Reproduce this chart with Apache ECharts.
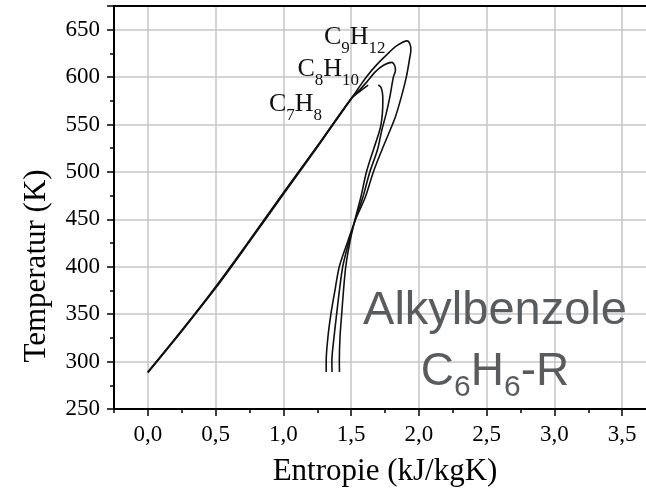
<!DOCTYPE html>
<html>
<head>
<meta charset="utf-8">
<script src="https://cdn.jsdelivr.net/npm/echarts@6/dist/echarts.min.js"></script>
<style>
html,body{margin:0;padding:0;background:#fff;}
#chart{width:646px;height:496px;}
</style>
</head>
<body>
<div id="chart"></div>
<script>
// ---- tick values ----
const xTickValues = [0, 0.5, 1.0, 1.5, 2.0, 2.5, 3.0, 3.5];
const yTickValues = [250, 300, 350, 400, 450, 500, 550, 600, 650];

// ---- C7H8 (Toluol): liquid branch and vapour branch (drawn separately) ----
const c7LiquidS = [0, 0.25, 0.5, 0.75, 1.0, 1.25, 1.5, 1.56, 1.626];
const c7LiquidT = [289, 333, 379, 428, 478, 527, 577, 584.5, 591.5];
const c7VaporS = [1.700, 1.720, 1.731, 1.734, 1.731, 1.720, 1.705, 1.664, 1.613, 1.572, 1.528, 1.494, 1.461, 1.444, 1.431, 1.418, 1.413, 1.414];
const c7VaporT = [591.8, 589.1, 583.3, 575.9, 562.3, 549.6, 541.1, 523.2, 500.0, 473.6, 449.4, 428.3, 400.8, 375.5, 351.3, 326.0, 300.6, 289.0];

// ---- C8H10: saturation curve (liquid up to critical point, then vapour) ----
const c8S = [0, 0.25, 0.5, 0.75, 1.0, 1.25, 1.5, 1.56, 1.616, 1.678, 1.739, 1.800, 1.822, 1.827, 1.812, 1.786, 1.760, 1.727, 1.694, 1.638, 1.587, 1.530, 1.487, 1.439, 1.414, 1.394, 1.374, 1.358, 1.359];
const c8T = [288.5, 332, 378, 427, 477.5, 527, 577.5, 586, 595, 605.5, 612.5, 615.5, 612, 607, 600.3, 579.2, 562.3, 544.3, 523.2, 500, 473.6, 449.4, 428.3, 400.8, 375.5, 351.3, 326, 300.6, 289];

// ---- C9H12: saturation curve ----
const c9S = [0, 0.25, 0.5, 0.75, 1.0, 1.25, 1.5, 1.55, 1.614, 1.688, 1.762, 1.835, 1.914, 1.934, 1.941, 1.930, 1.908, 1.871, 1.827, 1.779, 1.727, 1.664, 1.605, 1.531, 1.479, 1.414, 1.381, 1.352, 1.329, 1.316, 1.316];
const c9T = [288.5, 332.5, 377.5, 426.5, 476.5, 526, 577, 587.5, 600.5, 612.9, 623.4, 632.9, 638.2, 635, 628.7, 618.2, 600.5, 579.4, 558.3, 541.1, 523.2, 500, 473.6, 449.4, 428.3, 400.8, 375.5, 351.3, 326, 300.6, 289];

function pairs(s, t) { return s.map((v, i) => [v, t[i]]); }
function isTick(v, list) { return list.some(t => Math.abs(t - v) < 1e-6); }

const serifFont = 'Liberation Serif';
const gridGray = '#c6c6c6';
const curveStyle = { color: '#111', width: 1.6 };

function curve(name, data) {
  return {
    name: name, type: 'line', data: data, xAxisIndex: 0, yAxisIndex: 0,
    showSymbol: false, symbol: 'none', smooth: 0.3, z: 3, silent: true,
    lineStyle: curveStyle
  };
}

function formulaLabel(text, x, y) {
  return {
    type: 'text', z: 10, x: x, y: y,
    style: {
      text: text, align: 'left', verticalAlign: 'bottom',
      textAlign: 'left', textVerticalAlign: 'bottom', fill: '#111',
      rich: {
        m: { fontFamily: serifFont, fontSize: 26, lineHeight: 27, padding: [0, 0, 7, 0], verticalAlign: 'bottom', fill: '#111' },
        s: { fontFamily: serifFont, fontSize: 17, lineHeight: 18, verticalAlign: 'bottom', fill: '#111' }
      }
    }
  };
}

const chart = echarts.init(document.getElementById('chart'), null, { renderer: 'canvas' });

const option = {
  animation: false,
  backgroundColor: '#ffffff',
  grid: { left: 114, right: -10, top: 6, bottom: 87, show: false, containLabel: false, outerBoundsMode: 'none' },
  xAxis: [
    {
      type: 'value', min: -0.25, max: 3.75, interval: 0.5, position: 'bottom', z: 1,
      axisLine: { show: true, onZero: false, lineStyle: { color: '#000', width: 2 } },
      axisTick: { show: true, inside: false, length: 4, lineStyle: { color: '#000', width: 1.5 } },
      minorTick: { show: true, splitNumber: 2, length: 7, lineStyle: { color: '#000', width: 1.5 } },
      splitLine: { show: false },
      minorSplitLine: { show: true, lineStyle: { color: gridGray, width: 1.5 } },
      axisLabel: { show: false },
      name: 'Entropie (kJ/kgK)', nameLocation: 'middle', nameGap: 47,
      nameTextStyle: { fontFamily: serifFont, fontSize: 31, color: '#000' }
    },
    {
      type: 'value', min: -0.25, max: 3.75, interval: 0.25, position: 'bottom', z: 1,
      axisLine: { show: false, onZero: false },
      axisTick: { show: false }, splitLine: { show: false },
      axisLabel: {
        show: true, margin: 14, fontFamily: serifFont, fontSize: 23, color: '#000',
        formatter: v => isTick(v, xTickValues) ? v.toFixed(1).replace('.', ',') : ''
      }
    },
    {
      type: 'value', min: -0.25, max: 3.75, position: 'top', z: 1,
      axisLine: { show: true, onZero: false, lineStyle: { color: '#000', width: 2 } },
      axisTick: { show: false }, splitLine: { show: false }, axisLabel: { show: false }
    }
  ],
  yAxis: {
    type: 'value', min: 250, max: 675, interval: 50, z: 0,
    axisLine: { show: true, onZero: false, lineStyle: { color: '#000', width: 2 } },
    axisTick: { show: true, inside: false, length: 7, lineStyle: { color: '#000', width: 1.5 } },
    minorTick: { show: true, splitNumber: 2, length: 4, lineStyle: { color: '#000', width: 1.5 } },
    splitLine: { show: true, lineStyle: { color: gridGray, width: 1.5 } },
    axisLabel: {
      margin: 14, fontFamily: serifFont, fontSize: 23, color: '#000',
      formatter: v => isTick(v, yTickValues) ? String(v) : ''
    }
  },
  series: [
    curve('C7H8 liquid', pairs(c7LiquidS, c7LiquidT)),
    curve('C7H8 vapour', pairs(c7VaporS, c7VaporT)),
    curve('C8H10', pairs(c8S, c8T)),
    curve('C9H12', pairs(c9S, c9T))
  ],
  graphic: [
    {
      type: 'text', z: 10, rotation: Math.PI / 2, x: 37, y: 266,
      style: { text: 'Temperatur (K)', fontFamily: serifFont, fontSize: 31, fill: '#000',
               align: 'center', verticalAlign: 'middle', textAlign: 'center', textVerticalAlign: 'middle' }
    },
    formulaLabel('{m|C}{s|9}{m|H}{s|12}', 324, 57),
    formulaLabel('{m|C}{s|8}{m|H}{s|10}', 297.5, 89.5),
    formulaLabel('{m|C}{s|7}{m|H}{s|8}', 269, 124),
    {
      type: 'text', z: 10, x: 495, y: 311.5,
      style: { text: 'Alkylbenzole', fontFamily: 'Liberation Sans', fontSize: 47, fill: '#595c5f',
               align: 'center', verticalAlign: 'middle', textAlign: 'center', textVerticalAlign: 'middle' }
    },
    {
      type: 'text', z: 10, x: 495, y: 402.5,
      style: {
        text: '{m|C}{s|6}{m|H}{s|6}{m|-R}', align: 'center', verticalAlign: 'bottom',
        textAlign: 'center', textVerticalAlign: 'bottom', fill: '#595c5f',
        rich: {
          m: { fontFamily: 'Liberation Sans', fontSize: 46, lineHeight: 46, padding: [0, 0, 7.5, 0], verticalAlign: 'bottom', fill: '#595c5f' },
          s: { fontFamily: 'Liberation Sans', fontSize: 30, lineHeight: 30, verticalAlign: 'bottom', fill: '#595c5f' }
        }
      }
    }
  ]
};

chart.setOption(option);
</script>
</body>
</html>
